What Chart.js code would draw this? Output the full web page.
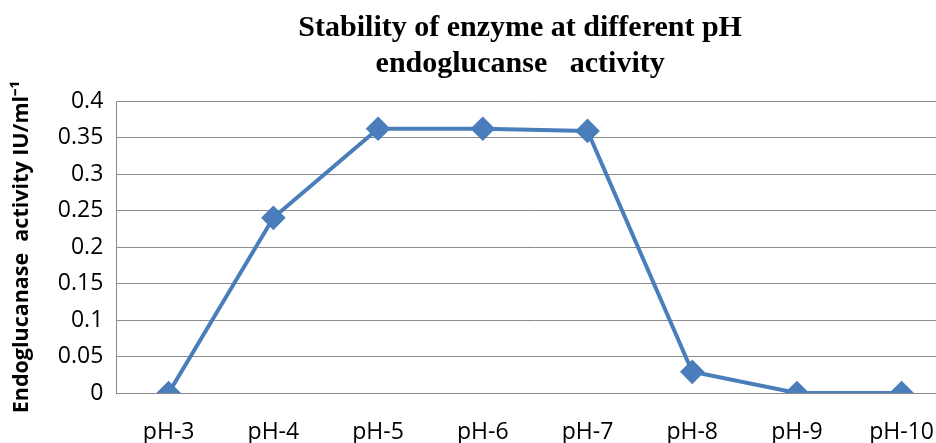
<!DOCTYPE html>
<html>
<head>
<meta charset="utf-8">
<script src="https://cdn.jsdelivr.net/npm/chart.js@4"></script>
<style>
  html, body { margin: 0; padding: 0; background: #fff; overflow: hidden; }
  #wrap { width: 1040px; height: 443px; }
</style>
</head>
<body>
<div id="wrap"><canvas id="phChart" width="1040" height="443"></canvas></div>
<script>
// chart data
const phLabels = ['pH-3', 'pH-4', 'pH-5', 'pH-6', 'pH-7', 'pH-8', 'pH-9', 'pH-10'];
const activity = [0, 0.24, 0.362, 0.362, 0.359, 0.029, 0, 0];
const yMin = 0;
const yMax = 0.4;
const yStep = 0.05;

const blue = '#4a7ebb';

const ctx = document.getElementById('phChart').getContext('2d');
new Chart(ctx, {
  type: 'line',
  data: {
    labels: phLabels,
    datasets: [{
      label: 'Endoglucanase activity',
      data: activity,
      borderColor: blue,
      backgroundColor: blue,
      borderWidth: 4,
      pointStyle: 'rectRot',
      pointRadius: 9.5,
      pointHoverRadius: 9.5,
      tension: 0
    }]
  },
  options: {
    responsive: false,
    animation: false,
    layout: {
      // ticks padding counts twice in the axis height, so pull the bottom back
      padding: { left: 4, right: 86, top: 4, bottom: -29 }
    },
    plugins: {
      legend: { display: false },
      tooltip: { enabled: false },
      title: {
        display: true,
        // title only spans the plot width, trailing spaces nudge it left a bit
        fullSize: false,
        text: ['Stability of enzyme at different pH    ', 'endoglucanse   activity    '],
        color: '#000',
        font: { family: '"Liberation Serif", "Times New Roman", serif', size: 30, weight: 'bold' },
        lineHeight: 1.1,
        padding: { top: 6, bottom: 19 }
      }
    },
    scales: {
      x: {
        offset: true,
        grid: { display: false, drawTicks: false },
        border: { display: true, color: '#888', width: 1 },
        ticks: {
          color: '#000',
          padding: 28,
          font: { family: '"Open Sans", sans-serif', size: 23, lineHeight: 1 }
        }
      },
      y: {
        min: yMin,
        max: yMax,
        grid: { color: '#8c8c8c', lineWidth: 1, drawTicks: false },
        border: { display: true, color: '#888', width: 1 },
        ticks: {
          stepSize: yStep,
          color: '#000',
          padding: 13,
          font: { family: '"Open Sans", sans-serif', size: 23 },
          callback: v => +v.toFixed(2)
        },
        title: {
          display: true,
          text: 'Endoglucanase  activity IU/ml\u207B\u00B9',
          color: '#000',
          font: { family: '"Open Sans", sans-serif', size: 21.5, weight: 'bold' },
          padding: { top: 5, bottom: 10 }
        }
      }
    }
  }
});
</script>
</body>
</html>
